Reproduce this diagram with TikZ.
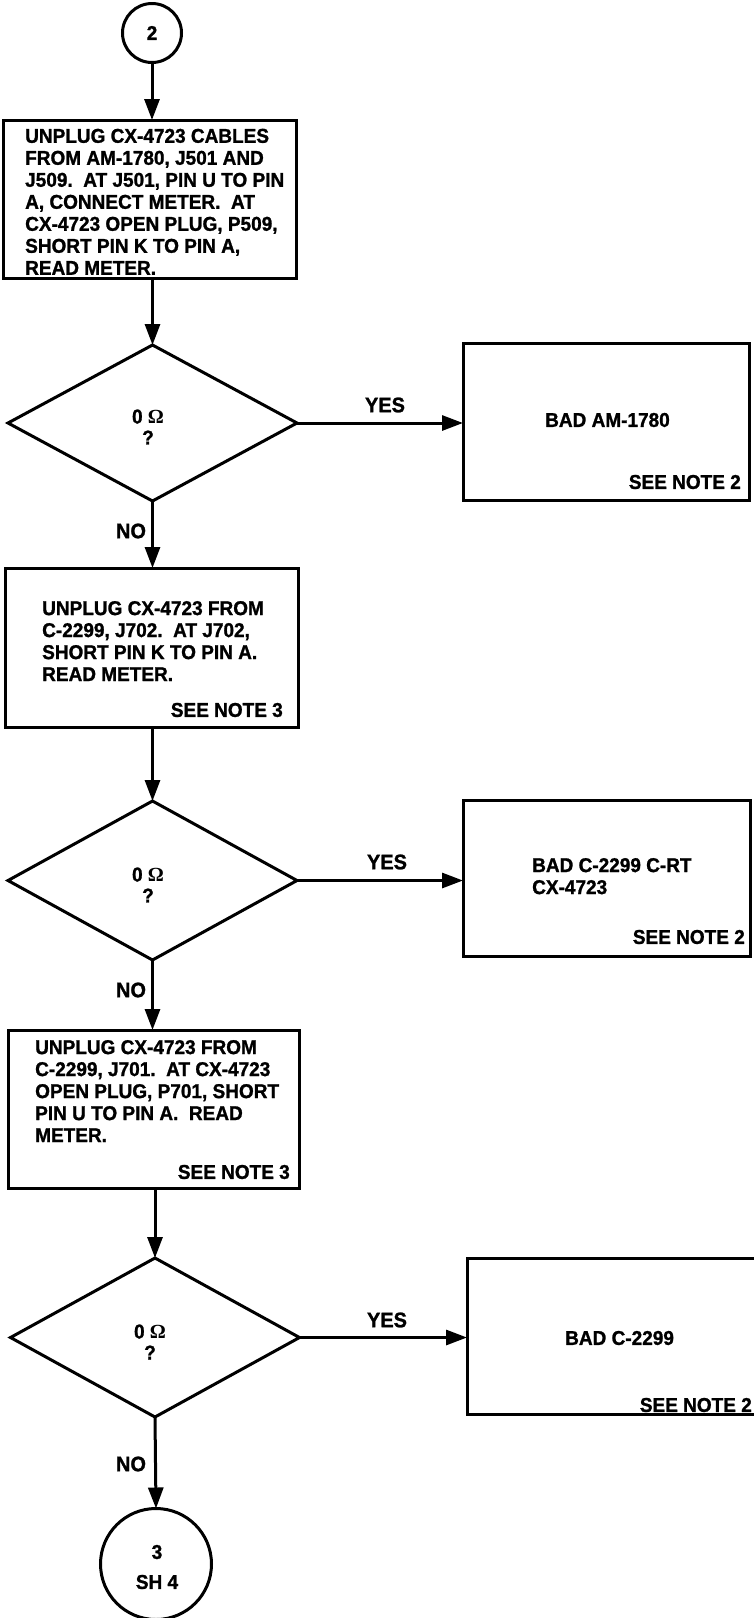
\documentclass[tikz,border=0pt]{standalone}
\usepackage{fontspec}
\setmainfont{Liberation Sans}[FakeStretch=0.95, BoldFeatures={FakeBold=1.2}]
\newfontfamily\omfont{Liberation Serif}
\usetikzlibrary{shapes.geometric,arrows.meta,calc}
\tikzset{
  box/.style={draw, line width=3pt, rectangle, inner sep=0pt, outer sep=0pt},
  dia/.style={draw, line width=3pt, diamond, inner sep=0pt, outer sep=0pt, minimum width=289pt},
  conn/.style={draw, line width=3pt, circle, inner sep=0pt, outer sep=0pt},
  txt/.style={font=\fontsize{20}{22}\selectfont\bfseries, inner sep=0pt, align=left},
  lbl/.style={font=\fontsize{21}{22}\selectfont\bfseries, inner sep=0pt},
  ctxt/.style={font=\fontsize{20}{21}\selectfont\bfseries, inner sep=0pt, align=center},
  flow/.style={line width=3pt, -{Triangle[length=21pt,width=15pt]}},
}
\begin{document}
\begin{tikzpicture}[x=1pt,y=-1pt]
\useasboundingbox (0,0) rectangle (753,1618);
\fill[white] (0,0) rectangle (753,1618);

% connector (top)
\node[conn, minimum size=59pt] (c2) at (152,33) {};
\node[ctxt] (c2t) at (152,33) {2};

% box 1
\node[box, minimum width=293pt, minimum height=158pt] (b1) at (150,199) {};
\node[txt, anchor=north west] (b1t) at (25,128.6) {UNPLUG CX-4723 CABLES\\
FROM AM-1780, J501 AND\\
J509.\ \ AT J501, PIN U TO PIN\\
A, CONNECT METER.\ \ AT\\
CX-4723 OPEN PLUG, P509,\\
SHORT PIN K TO PIN A,\\
READ METER.};

% decision 1
\node[dia, minimum height=156pt] (d1) at (152.5,423) {};
\node[ctxt] (d1t) at (148,427) {0 {\omfont\bfseries Ω}\\?};
\node[box, minimum width=286pt, minimum height=157pt] (r1) at (606,421.5) {};
\node[txt, anchor=west] (r1t) at (545,420) {BAD AM-1780};
\node[txt, anchor=east] (r1n) at (741,482) {SEE NOTE 2};
\node[lbl] (y1) at (385,405) {YES};
\node[lbl] (n1) at (131,531) {NO};

% box 2
\node[box, minimum width=293pt, minimum height=159pt] (b2) at (151.5,647.5) {};
\node[txt, anchor=north west] (b2t) at (42,600.9) {UNPLUG CX-4723 FROM\\
C-2299, J702.\ \ AT J702,\\
SHORT PIN K TO PIN A.\\
READ METER.};
\node[txt, anchor=east] (b2n) at (283,710) {SEE NOTE 3};

% decision 2
\node[dia, minimum height=159pt] (d2) at (152.5,880.5) {};
\node[ctxt] (d2t) at (148,885) {0 {\omfont\bfseries Ω}\\?};
\node[box, minimum width=287pt, minimum height=156pt] (r2) at (606.5,878) {};
\node[txt, anchor=north west] (r2t) at (532,857.9) {BAD C-2299 C-RT\\CX-4723};
\node[txt, anchor=east] (r2n) at (745,937) {SEE NOTE 2};
\node[lbl] (y2) at (387,862) {YES};
\node[lbl] (n2) at (131,990) {NO};

% box 3
\node[box, minimum width=291pt, minimum height=158pt] (b3) at (153.5,1109) {};
\node[txt, anchor=north west] (b3t) at (35,1039.9) {UNPLUG CX-4723 FROM\\
C-2299, J701.\ \ AT CX-4723\\
OPEN PLUG, P701, SHORT\\
PIN U TO PIN A.\ \ READ\\
METER.};
\node[txt, anchor=east] (b3n) at (290,1172) {SEE NOTE 3};

% decision 3
\node[dia, minimum height=159pt] (d3) at (155,1337.5) {};
\node[ctxt] (d3t) at (150,1342) {0 {\omfont\bfseries Ω}\\?};
\node[box, minimum width=293pt, minimum height=156pt] (r3) at (613.5,1336) {};
\node[txt, anchor=west] (r3t) at (565,1338) {BAD C-2299};
\node[txt, anchor=east] (r3n) at (752,1405) {SEE NOTE 2};
\node[lbl] (y3) at (387,1320) {YES};
\node[lbl] (n3) at (131,1464) {NO};

% off-page connector
\node[conn, minimum size=111pt] (c3) at (156,1564) {};
\node[ctxt, font=\fontsize{20}{30}\selectfont\bfseries] (c3t) at (157,1567) {3\\SH 4};

% flow lines
\draw[flow] (c2.south) -- (c2.south |- b1.north);
\draw[flow] (d1.north |- b1.south) -- (d1.north);
\draw[flow] (d1.east) -- (d1.east -| r1.west);
\draw[flow] (d1.south) -- (d1.south |- b2.north);
\draw[flow] (d2.north |- b2.south) -- (d2.north);
\draw[flow] (d2.east) -- (d2.east -| r2.west);
\draw[flow] (d2.south) -- (d2.south |- b3.north);
\draw[flow] (d3.north |- b3.south) -- (d3.north);
\draw[flow] (d3.east) -- (d3.east -| r3.west);
\draw[flow] (d3.south) -- (c3.north);
\end{tikzpicture}
\end{document}
